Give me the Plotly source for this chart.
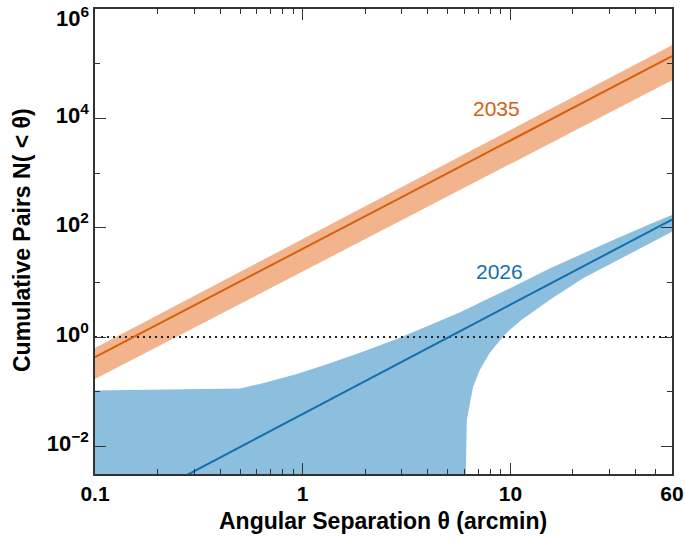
import numpy as np
import plotly.graph_objects as go

# ---- data ----
theta_line = [0.1, 60]
n2035_center = [0.43, 1.37e5]
n2035_upper = [0.63, 2.18e5]
n2035_lower = [0.171, 4.99e4]

n2026_center = [3.9e-4, 141]

theta_2026_upper = [0.1, 0.499, 0.643, 0.937, 1.351, 1.947, 2.838, 4.09, 5.70, 7.36,
                    10.72, 15.45, 22.28, 32.46, 46.8, 60]
n2026_upper = [0.105, 0.115, 0.1425, 0.211, 0.331, 0.538, 0.919, 1.62, 2.8, 4.5,
               8.92, 18.0, 33.9, 63.7, 116, 170]

theta_2026_lower = [0.1, 6.07, 6.10, 6.17, 6.37, 6.61, 7.12, 7.95, 9.18, 9.92, 11.3,
                    15.45, 22.28, 32.46, 46.8, 60]
n2026_lower = [1e-5, 1e-5, 3e-3, 0.0304, 0.062, 0.122, 0.249, 0.51, 1.0, 1.34, 2.05,
               4.75, 11.8, 25.6, 51.6, 84.2]

x_tickvals = [0.1, 1, 10, 60]
x_ticktext = ["0.1", "1", "10", "60"]
x_minor = [0.2, 0.3, 0.4, 0.5, 0.6, 0.7, 0.8, 0.9, 2, 3, 4, 5, 6, 7, 8, 9, 20, 30, 40, 50]
y_tickvals = [1e-2, 1e0, 1e2, 1e4, 1e6]
y_ticktext = ["10<sup>−2</sup>", "10<sup>0</sup>", "10<sup>2</sup>", "10<sup>4</sup>", ""]
y_top_label = "10<sup>6</sup>"
y_minor = [1e-1, 1e1, 1e3, 1e5]

ORANGE_LINE = "#D5600F"
ORANGE_BAND = "#F2B48C"
BLUE_LINE = "#136FAD"
BLUE_BAND = "#8CBEDD"

FONT = "Liberation Sans"

fig = go.Figure()

# orange band
fig.add_trace(go.Scatter(
    x=theta_line + theta_line[::-1],
    y=n2035_upper + n2035_lower[::-1],
    fill="toself", fillcolor=ORANGE_BAND, line=dict(width=0),
    mode="lines", hoverinfo="skip", showlegend=False))

# blue band
fig.add_trace(go.Scatter(
    x=theta_2026_upper + theta_2026_lower[::-1],
    y=n2026_upper + n2026_lower[::-1],
    fill="toself", fillcolor=BLUE_BAND, line=dict(width=0),
    mode="lines", hoverinfo="skip", showlegend=False))

# dotted unity line
fig.add_trace(go.Scatter(
    x=theta_line, y=[1, 1], mode="lines",
    line=dict(color="#222222", width=2, dash="2px,4px"),
    hoverinfo="skip", showlegend=False))

# center lines
fig.add_trace(go.Scatter(x=theta_line, y=n2035_center, mode="lines",
                         line=dict(color=ORANGE_LINE, width=2), showlegend=False))
fig.add_trace(go.Scatter(x=theta_line, y=n2026_center, mode="lines",
                         line=dict(color=BLUE_LINE, width=2), showlegend=False))

fig.add_annotation(x=np.log10(8.6), y=np.log10(1.54e4), text="2035", showarrow=False,
                   font=dict(size=21, color=ORANGE_LINE, family=FONT))
fig.add_annotation(x=np.log10(8.9), y=np.log10(15.5), text="2026", showarrow=False,
                   font=dict(size=21, color=BLUE_LINE, family=FONT))

# top y tick label (kept inside the page like the reference)
fig.add_annotation(xref="paper", yref="paper", x=0, y=1, text=y_top_label,
                   showarrow=False, xanchor="right", yanchor="top",
                   xshift=-4, yshift=8,
                   font=dict(size=22, family=FONT, weight="bold", color="black"))

# axis titles
fig.add_annotation(xref="paper", yref="paper", x=(383 - 95) / 577, y=(474 - 521) / 465,
                   text="Angular Separation θ (arcmin)", showarrow=False,
                   xanchor="center", yanchor="middle",
                   font=dict(size=23, family=FONT, weight="bold", color="black"))
fig.add_annotation(xref="paper", yref="paper", x=(22 - 95) / 577, y=(474 - 240) / 465,
                   text="Cumulative Pairs N( < θ)", showarrow=False, textangle=-90,
                   xanchor="center", yanchor="middle",
                   font=dict(size=23, family=FONT, weight="bold", color="black"))

axis_common = dict(
    showline=True, linecolor="#333333", linewidth=1.5, mirror="ticks",
    ticks="inside", tickcolor="#333333", tickwidth=1.3, ticklen=11,
    showgrid=False, zeroline=False, automargin=False,
)

fig.update_xaxes(
    type="log", range=[-1, np.log10(60)],
    tickmode="array", tickvals=x_tickvals, ticktext=x_ticktext,
    tickfont=dict(size=21, family=FONT, weight="bold", color="black"),
    minor=dict(tickmode="array", tickvals=x_minor, ticklen=5, ticks="inside",
               tickcolor="#333333", tickwidth=1.3, showgrid=False),
    **axis_common)

fig.update_yaxes(
    type="log", range=[np.log10(3.13e-3), 6.0005],
    tickmode="array", tickvals=y_tickvals, ticktext=y_ticktext,
    tickfont=dict(size=22, family=FONT, weight="bold", color="black"),
    ticklabelshift=-3,
    minor=dict(tickmode="array", tickvals=y_minor, ticklen=5, ticks="inside",
               tickcolor="#333333", tickwidth=1.3, showgrid=False),
    **axis_common)

fig.update_layout(
    width=685, height=538,
    margin=dict(l=95, r=13, t=9, b=64),
    paper_bgcolor="white", plot_bgcolor="white",
    font=dict(family=FONT),
)

fig.write_html("out.html", config={"displayModeBar": False},
               post_script="document.body.style.margin='0';document.body.style.overflow='hidden';")
